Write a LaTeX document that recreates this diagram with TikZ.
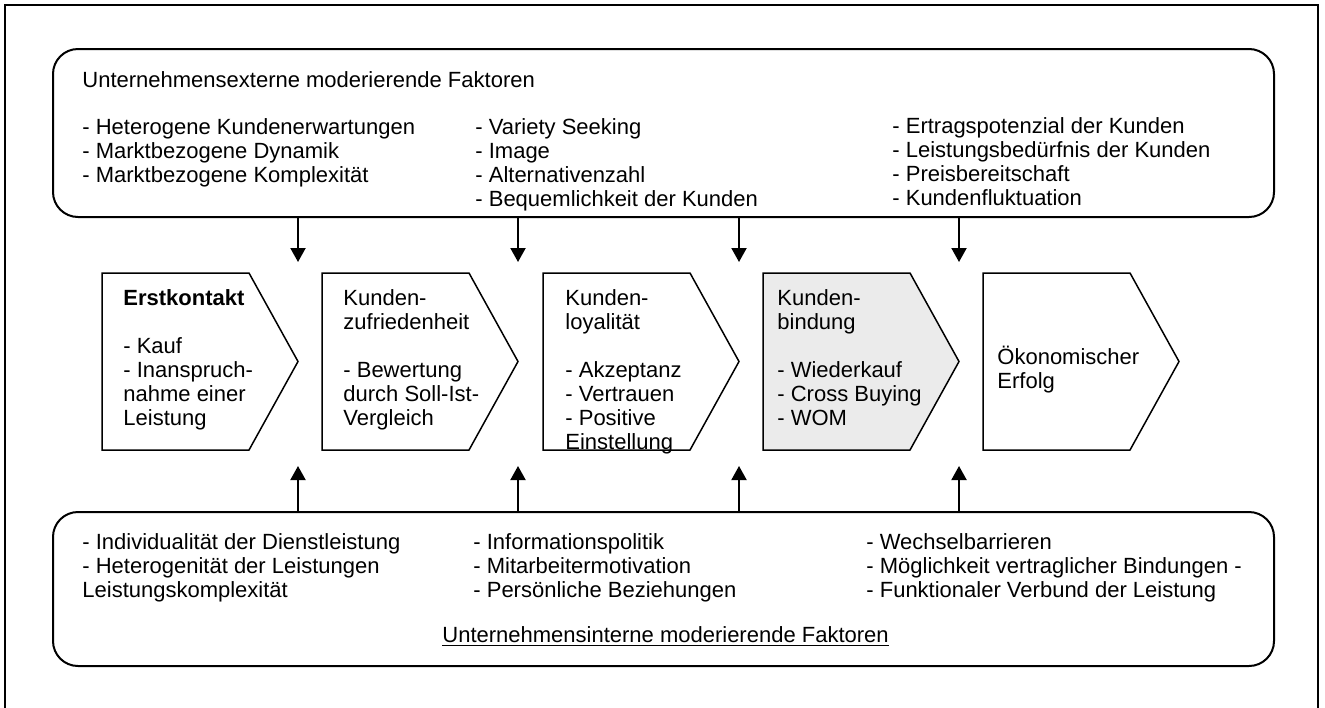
\documentclass[tikz,border=0pt]{standalone}
\usepackage{fontspec}
\setmainfont{Liberation Sans}
\usetikzlibrary{arrows.meta}
\begin{document}
\begin{tikzpicture}[x=0.5pt,y=-0.5pt,
  txt/.style={anchor=north west, inner sep=0pt, align=left, font=\fontsize{11}{12}\selectfont},
  panel/.style={draw, line width=1pt, rounded corners=12.5pt, anchor=north west, inner sep=0pt},
  chev/.style={draw, line width=0.75pt, line join=miter},
  arr/.style={line width=1pt, -{Triangle[width=7.5pt,length=7pt]}}]
\useasboundingbox (0,0) rectangle (1325,707);
% outer frame (bottom edge runs off the page)
\draw[line width=1pt] (5,5) rectangle (1318,740);

% factor panels
\node[panel, minimum width=610.5pt, minimum height=84pt] (ext) at (52,48) {};
\node[panel, minimum width=610.5pt, minimum height=77pt] (int) at (52,511) {};

% external factors
\node[txt] (extTitle) at (82,70) {\strut Unternehmensexterne moderierende Faktoren};
\node[txt] (ext1) at (82,117) {\strut - Heterogene Kundenerwartungen\\- Marktbezogene Dynamik\\- Marktbezogene Komplexität};
\node[txt] (ext2) at (475,117) {\strut - Variety Seeking\\- Image\\- Alternativenzahl\\- Bequemlichkeit der Kunden};
\node[txt] (ext3) at (892,116) {\strut - Ertragspotenzial der Kunden\\- Leistungsbedürfnis der Kunden\\- Preisbereitschaft\\- Kundenfluktuation};

% internal factors
\node[txt] (int1) at (82,532) {\strut - Individualität der Dienstleistung\\- Heterogenität der Leistungen\\Leistungskomplexität};
\node[txt] (int2) at (473,532) {\strut - Informationspolitik\\- Mitarbeitermotivation\\- Persönliche Beziehungen};
\node[txt] (int3) at (866,532) {\strut - Wechselbarrieren\\- Möglichkeit vertraglicher Bindungen -\\- Funktionaler Verbund der Leistung};
\node[txt] (intTitle) at (442,625) {\strut\underline{Unternehmensinterne moderierende Faktoren}};

% process chevrons
\foreach \x/\n/\f in {102/1/white,322/2/white,543/3/white,763/4/black!8,983/5/white}{
  \draw[chev, fill=\f] (\x,273) -- ++(147,0) -- ++(49,88.5) -- ++(-49,88.5) -- ++(-147,0) -- cycle;
  \coordinate (tip\n) at (\x+196,361.5);
}
\node[txt] (s1) at (123,288) {\strut\textbf{Erstkontakt}\\[12pt]- Kauf\\- Inanspruch-\\nahme einer\\Leistung};
\node[txt] (s2) at (343,288) {\strut Kunden-\\zufriedenheit\\[12pt]- Bewertung\\durch Soll-Ist-\\Vergleich};
\node[txt] (s3) at (565,288) {\strut Kunden-\\loyalität\\[12pt]- Akzeptanz\\- Vertrauen\\- Positive\\Einstellung};
\node[txt] (s4) at (777,288) {\strut Kunden-\\bindung\\[12pt]- Wiederkauf\\- Cross Buying\\- WOM};
\node[txt] (s5) at (997,346) {\strut Ökonomischer\\Erfolg};

% influence arrows
\foreach \n in {1,2,3,4}{
  \coordinate (down\n) at ([yshift=-22pt]tip\n |- ext.south);
  \coordinate (up\n) at ([yshift=22.5pt]tip\n |- int.north);
  \draw[arr] (ext.south -| down\n) -- (down\n);
  \draw[arr] (int.north -| up\n) -- (up\n);
}
\end{tikzpicture}
\end{document}
